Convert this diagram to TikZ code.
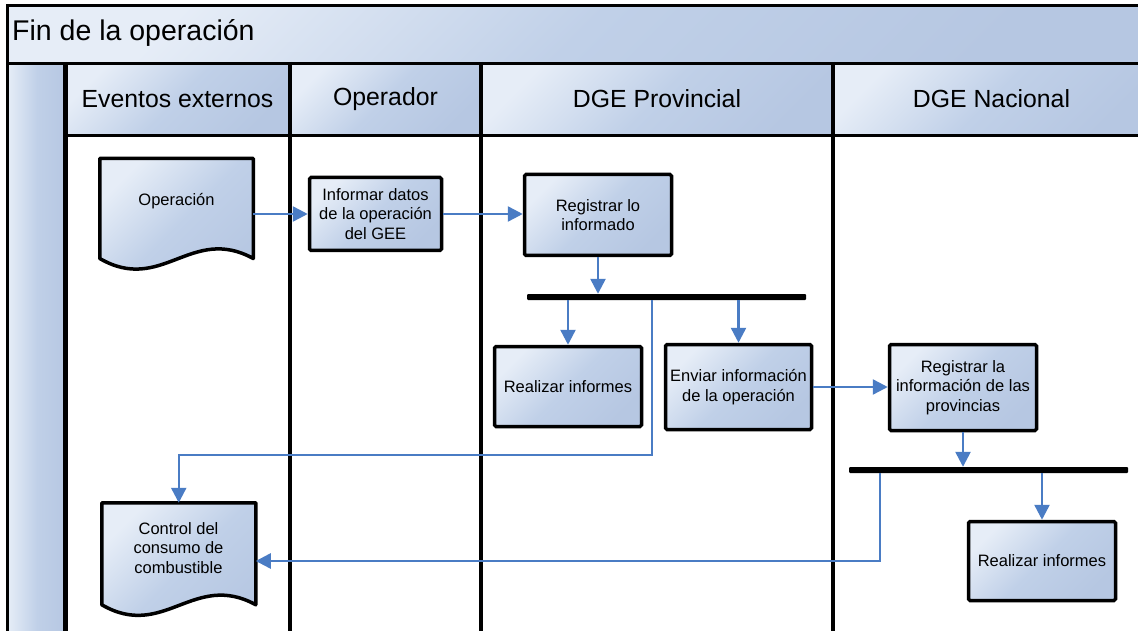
\documentclass[tikz,border=0pt]{standalone}
\usepackage{fontspec}
\setmainfont{Liberation Sans}
\usetikzlibrary{arrows.meta,calc}
\definecolor{cLight}{RGB}{230,237,247}
\definecolor{cMid}{RGB}{192,208,232}
\definecolor{cDark}{RGB}{182,199,226}
\definecolor{flowblue}{RGB}{74,124,196}

\begin{document}
\begin{tikzpicture}[x=1pt,y=-1pt,
  softfill/.style={top color=cLight, bottom color=cDark, middle color=cMid, shading angle=45},
  panel/.style={draw=black, line width=3pt, softfill, inner sep=0pt},
  lanehead/.style={panel, minimum height=74pt, font=\fontsize{24.8}{28}\selectfont},
  task/.style={draw=black, line width=3.5pt, rounded corners=1.5pt, softfill,
    inner sep=0pt, align=center, font=\fontsize{16.5}{19.5}\selectfont},
  docarea/.style={inner sep=0pt, outer sep=1.75pt},
  docshape/.style={draw=black, line width=3.5pt, line join=round, softfill},
  doctext/.style={align=center, font=\fontsize{16.5}{19.5}\selectfont},
  forkbar/.style={fill=black, rounded corners=1pt, minimum height=6pt, inner sep=0pt},
  flow/.style={draw=flowblue, line width=2.5pt, -{Triangle[length=15pt,width=15pt]}},
  lane/.style={line width=4pt}
]
\useasboundingbox (0,0) rectangle (1138,631);
\clip (0,0) rectangle (1138,631);
\fill[white] (0,0) rectangle (1138,631);

% lane headers
\node[lanehead, minimum width=225pt] (h1) at (177.5,99) {Eventos externos};
\node[lanehead, minimum width=191pt] (h2) at (385.5,99) {Operador};
\node[lanehead, minimum width=352pt] (h3) at (657,99) {DGE Provincial};
\node[lanehead, minimum width=317pt] (h4) at (991.5,99) {DGE Nacional};

% pool strip and title bar
\node[draw=black, line width=3pt, left color=cLight, right color=cDark, middle color=cMid, inner sep=0pt,
      minimum width=59pt, minimum height=600pt, anchor=north west] (pool) at (6,62) {};
\node[panel, minimum width=1144pt, minimum height=58pt, anchor=north west] (title) at (6,4) {};
\node[anchor=west, inner sep=0pt, font=\fontsize{28.5}{32}\selectfont] (titletext) at (12,33) {Fin de la operación};

% lane separators
\draw[lane] (65,62) -- (65,640);
\draw[lane] (290,62) -- (290,640);
\draw[lane] (481,62) -- (481,640);
\draw[lane] (833,62) -- (833,640);

% documents
\node[docarea, minimum width=150pt, minimum height=96.5pt] (op) at (176.5,208.5) {};
\path[docshape] (op.north west) -- (op.north east) -- (op.south east)
  .. controls ($(op.south east)+(-62,-34)$) and ($(op.south west)+(62,36)$) .. (op.south west) -- cycle;
\node[doctext] (opt) at (176.5,201) {Operación};

\node[docarea, minimum width=150.5pt, minimum height=98.5pt] (ctl) at (178.75,553.75) {};
\path[docshape] (ctl.north west) -- (ctl.north east) -- (ctl.south east)
  .. controls ($(ctl.south east)+(-62,-34)$) and ($(ctl.south west)+(62,36)$) .. (ctl.south west) -- cycle;
\node[doctext] (ctlt) at (178.5,548) {Control del\\consumo de\\combustible};

% tasks
\node[task, minimum width=132pt, minimum height=73pt] (inf) at (375.5,214) {Informar datos\\de la operación\\del GEE};
\node[task, minimum width=147pt, minimum height=81pt] (reg) at (598,215) {Registrar lo\\informado};
\node[task, minimum width=147pt, minimum height=80pt] (rea1) at (568,386.5) {Realizar informes};
\node[task, minimum width=146pt, minimum height=85pt] (env) at (738.5,387) {Enviar información\\de la operación};
\node[task, minimum width=147pt, minimum height=86pt] (rin) at (963,387.5) {Registrar la\\información de las\\provincias};
\node[task, minimum width=147pt, minimum height=79pt] (rea2) at (1042,561) {Realizar informes};

% fork bars
\node[forkbar, minimum width=279pt] (bar1) at (666.5,297) {};
\node[forkbar, minimum width=279pt] (bar2) at (988.5,470) {};

% bends of the return lines
\coordinate (f1) at (652,455);
\coordinate (f2) at (880,561);

% connectors
\draw[flow] (op.east |- inf.west) -- (inf.west);
\draw[flow] (inf.east) -- (inf.east -| reg.west);
\draw[flow] (reg.south) -- (reg.south |- bar1.north);
\draw[flow] (bar1.south -| rea1.north) -- (rea1.north);
\draw[flow] (bar1.south -| env.north) -- (env.north);
\draw[flow] (bar1.south -| f1) -- (f1) -| (ctl.north);
\draw[flow] (env.east) -- (env.east -| rin.west);
\draw[flow] (rin.south) -- (rin.south |- bar2.north);
\draw[flow] (bar2.south -| rea2.north) -- (rea2.north);
\draw[flow] (bar2.south -| f2) -- (f2) -- (f2 -| ctl.east);
\end{tikzpicture}
\end{document}
